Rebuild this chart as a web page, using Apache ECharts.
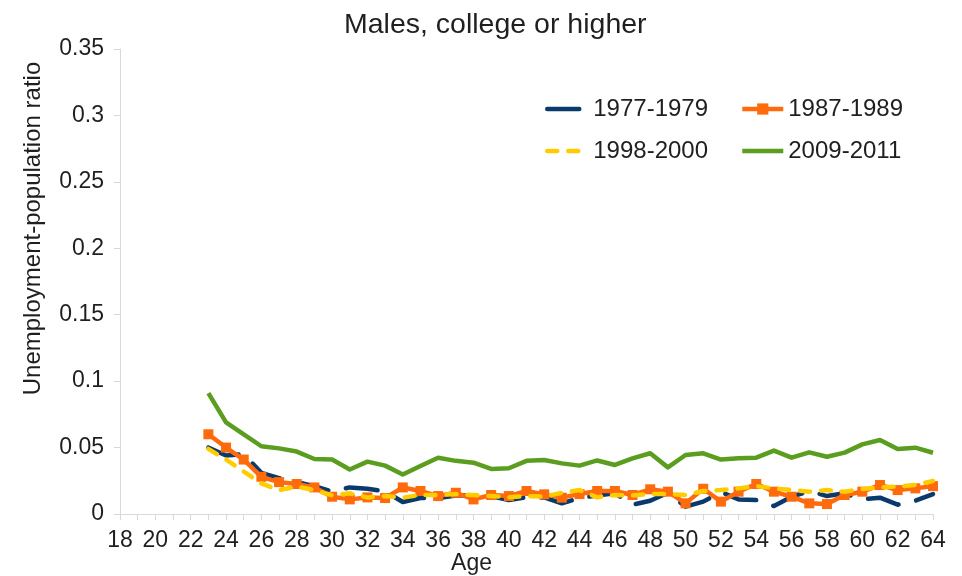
<!DOCTYPE html>
<html>
<head>
<meta charset="utf-8">
<script src="https://cdn.jsdelivr.net/npm/echarts@6/dist/echarts.min.js"></script>
<style>
  html, body { margin: 0; padding: 0; background: #ffffff; }
  #chart { width: 962px; height: 576px; }
</style>
</head>
<body>
<div id="chart"></div>
<script>
// Age categories along the x axis
var ages = ['18','19','20','21','22','23','24','25','26','27','28','29','30','31','32','33','34','35','36','37','38','39','40',
            '41','42','43','44','45','46','47','48','49','50','51','52','53','54','55','56','57','58','59','60','61','62','63','64'];

// Unemployment-population ratio by age (no data below 23)
var s1977 = [null,null,null,null,null,
  0.050,0.044,0.045,0.031,0.027,0.024,0.021,0.017,0.020,0.019,0.017,0.009,0.012,0.012,0.014,
  0.014,0.0135,0.0105,0.0125,0.0125,0.008,0.012,0.014,0.0156,0.007,0.010,0.016,0.0055,0.0093,
  0.0165,0.011,0.0105,0.006,0.013,0.0173,0.0135,0.0156,0.011,0.0123,0.007,0.010,0.015];
var s1987 = [null,null,null,null,null,
  0.060,0.050,0.041,0.028,0.024,0.0226,0.020,0.013,0.011,0.0125,0.012,0.020,0.0173,0.0135,0.016,
  0.011,0.0143,0.0135,0.0173,0.0148,0.0123,0.015,0.0173,0.0173,0.0143,0.0186,0.0168,0.008,0.019,
  0.0093,0.0168,0.0226,0.0168,0.013,0.008,0.0075,0.0143,0.0168,0.0218,0.018,0.0193,0.021];
var s1998 = [null,null,null,null,null,
  0.049,0.041,0.032,0.023,0.018,0.0206,0.018,0.014,0.0156,0.0125,0.0135,0.0123,0.0143,0.0143,0.015,
  0.0143,0.0135,0.0125,0.0135,0.013,0.016,0.018,0.0125,0.0143,0.014,0.015,0.015,0.0143,0.0173,
  0.018,0.0193,0.021,0.0193,0.018,0.0168,0.018,0.0168,0.0188,0.020,0.0206,0.0218,0.0248];
var s2009 = [null,null,null,null,null,
  0.091,0.069,0.060,0.051,0.0494,0.047,0.0414,0.041,0.0335,0.0394,0.0364,0.0298,0.0361,0.0424,0.040,
  0.0386,0.0339,0.0344,0.040,0.0406,0.0381,0.0364,0.0403,0.0369,0.0419,0.0457,0.0351,0.0444,0.0457,
  0.041,0.042,0.0424,0.0477,0.0424,0.0464,0.0431,0.0462,0.0524,0.0557,0.0489,0.0499,0.0461];

var yTicks = { min: 0, max: 0.35, step: 0.05 };

var colNavy = '#0a3a6b', colOrange = '#ff6a0d', colGold = '#ffcc00', colGreen = '#5b9e1f';
var axisGray = '#d9d9d9';
var textCol = '#1f1f1f';
var font = 'Liberation Sans, Arial, sans-serif';

var chart = echarts.init(document.getElementById('chart'), null, { renderer: 'canvas' });

var legendText = { fontFamily: font, fontSize: 24, color: textCol };
var noSymbol = { opacity: 0 };

chart.setOption({
  animation: false,
  backgroundColor: '#ffffff',
  title: {
    text: 'Males, college or higher',
    left: 339, top: 6,
    textStyle: { fontFamily: font, fontSize: 28.5, fontWeight: 'normal', color: textCol }
  },
  legend: [
    {
      left: 540, top: 92, itemWidth: 41, itemHeight: 14, itemGap: 32,
      lineStyle: { width: 4.5 },
      data: [{ name: '1977-1979', itemStyle: noSymbol }, { name: '1987-1989' }],
      textStyle: legendText
    },
    {
      left: 540, top: 134, itemWidth: 41, itemHeight: 14, itemGap: 32,
      lineStyle: { width: 4.5 },
      data: [{ name: '1998-2000', itemStyle: noSymbol }, { name: '2009-2011', itemStyle: noSymbol }],
      textStyle: legendText
    }
  ],
  grid: { left: 120, right: 29, top: 49, bottom: 62, containLabel: false, outerBoundsMode: 'none' },
  xAxis: {
    type: 'category',
    data: ages,
    boundaryGap: false,
    name: 'Age',
    nameLocation: 'middle',
    nameGap: 38,
    nameMoveOverlap: false,
    nameTextStyle: { fontFamily: font, fontSize: 23, color: textCol, padding: [0, 110, 0, 0] },
    axisLine: { lineStyle: { color: axisGray, width: 1 } },
    axisTick: { show: true, interval: 0, length: 6, lineStyle: { color: axisGray } },
    axisLabel: { interval: 1, fontFamily: font, fontSize: 23, color: textCol, margin: 15 },
    splitLine: { show: false }
  },
  yAxis: {
    type: 'value',
    min: yTicks.min, max: yTicks.max, interval: yTicks.step,
    name: 'Unemployment-population ratio',
    nameLocation: 'middle',
    nameGap: 75,
    nameRotate: 90,
    nameMoveOverlap: false,
    nameTextStyle: { fontFamily: font, fontSize: 24, color: textCol, padding: [0, 0, 0, 106] },
    axisLine: { show: true, lineStyle: { color: axisGray, width: 1 } },
    axisTick: { show: true, length: 6, lineStyle: { color: axisGray } },
    axisLabel: { fontFamily: font, fontSize: 23, color: textCol, margin: 16 },
    splitLine: { show: false }
  },
  series: [
    {
      name: '1977-1979', type: 'line', data: s1977, symbol: 'none', connectNulls: false,
      color: colNavy,
      lineStyle: { color: colNavy, width: 4.5, type: [32, 18], cap: 'round', join: 'round' },
      z: 2
    },
    {
      name: '1987-1989', type: 'line', data: s1987, symbol: 'rect', symbolSize: 10,
      color: colOrange, itemStyle: { color: colOrange },
      lineStyle: { color: colOrange, width: 4.5, join: 'round' },
      z: 3
    },
    {
      name: '1998-2000', type: 'line', data: s1998, symbol: 'none',
      color: colGold,
      lineStyle: { color: colGold, width: 4.5, type: [10, 11], cap: 'round', join: 'round' },
      z: 4
    },
    {
      name: '2009-2011', type: 'line', data: s2009, symbol: 'none',
      color: colGreen,
      lineStyle: { color: colGreen, width: 4.5, join: 'round' },
      z: 1
    }
  ]
});
</script>
</body>
</html>
